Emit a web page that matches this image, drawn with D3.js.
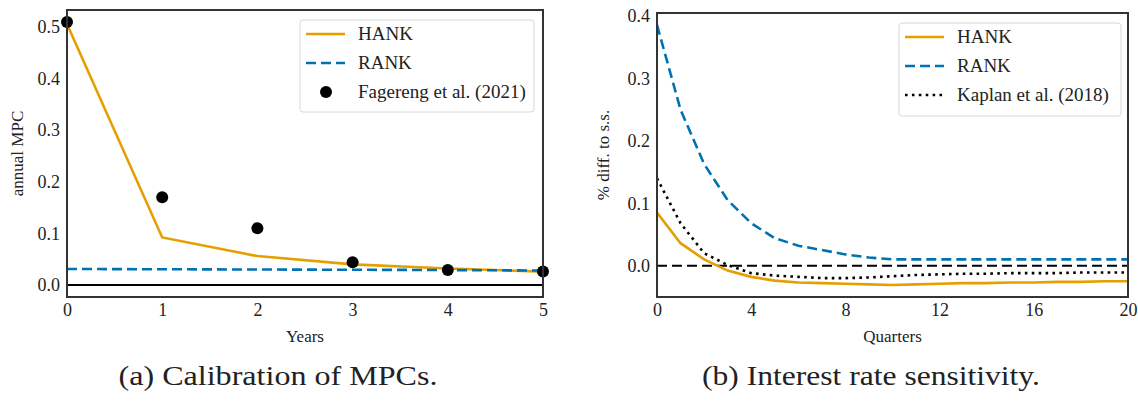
<!DOCTYPE html>
<html><head><meta charset="utf-8">
<script src="https://cdn.jsdelivr.net/npm/d3@7"></script>
<style>body{margin:0;background:#fff}svg{display:block}text{font-family:"Liberation Serif","Times New Roman",Times,serif;fill:#222}</style>
</head><body>
<svg id="c" width="1138" height="407"></svg>
<script>
// Panel (a): annual MPC
const years = [0, 1, 2, 3, 4, 5];
const mpcHANK = [0.505, 0.092, 0.056, 0.040, 0.032, 0.026];
const mpcRANK = [0.031, 0.0305, 0.030, 0.0295, 0.029, 0.028];
const mpcFagereng = [0.509, 0.170, 0.110, 0.044, 0.029, 0.026];
const yTicksA = [0.0, 0.1, 0.2, 0.3, 0.4, 0.5];
const xTicksA = [0, 1, 2, 3, 4, 5];

// Panel (b): interest rate sensitivity
const quarters = d3.range(0, 21);
const irHANK = [0.085, 0.036, 0.010, -0.008, -0.018, -0.024, -0.027, -0.028, -0.029, -0.030, -0.031, -0.030, -0.029, -0.028, -0.028, -0.027, -0.027, -0.026, -0.026, -0.025, -0.025];
const irRANK = [0.386, 0.250, 0.163, 0.105, 0.068, 0.044, 0.032, 0.025, 0.018, 0.013, 0.010, 0.010, 0.010, 0.010, 0.010, 0.010, 0.010, 0.010, 0.010, 0.010, 0.010];
const irKaplan = [0.140, 0.068, 0.020, 0.001, -0.012, -0.016, -0.018, -0.020, -0.020, -0.019, -0.017, -0.015, -0.014, -0.013, -0.013, -0.012, -0.012, -0.012, -0.011, -0.011, -0.011];
const yTicksB = [0.0, 0.1, 0.2, 0.3, 0.4];
const xTicksB = [0, 4, 8, 12, 16, 20];

const ORANGE = "#E69F00", BLUE = "#0072B2";
const SERIF = '"Liberation Serif","Times New Roman",Times,serif';
const svg = d3.select("#c");

function panel(o) {
  const g = svg.append("g");
  const x = d3.scaleLinear().domain(o.xdom).range([o.x0, o.x1]);
  const y = d3.scaleLinear().domain(o.ydom).range([o.y1, o.y0]);
  const clipId = "clip" + o.id;
  svg.append("clipPath").attr("id", clipId).append("rect")
    .attr("x", o.x0).attr("y", o.y0).attr("width", o.x1 - o.x0).attr("height", o.y1 - o.y0);
  const inner = g.append("g").attr("clip-path", `url(#${clipId})`);
  const xa = g.append("g").attr("transform", `translate(0,${o.y1})`)
    .call(d3.axisBottom(x).tickValues(o.xticks).tickSize(0).tickPadding(6).tickFormat(d3.format("d")));
  const ya = g.append("g").attr("transform", `translate(${o.x0},0)`)
    .call(d3.axisLeft(y).tickValues(o.yticks).tickSize(0).tickPadding(7).tickFormat(d3.format(".1f")));
  [xa, ya].forEach(a => {
    a.attr("font-family", SERIF).attr("font-size", 18);
    a.select(".domain").remove();
    a.selectAll("text").style("font-size", "18px").attr("fill", "#222");
  });
  g.append("text").attr("x", (o.x0 + o.x1) / 2).attr("y", o.y1 + 45).attr("text-anchor", "middle")
    .style("font-size", "17px").text(o.xlabel);
  g.append("text").attr("transform", `translate(${o.ylabx},${(o.y0 + o.y1) / 2}) rotate(-90)`)
    .attr("text-anchor", "middle").style("font-size", "17px").text(o.ylabel);
  g.append("text").attr("x", o.capx).attr("y", 385).attr("text-anchor", "middle")
    .attr("textLength", o.capw).attr("lengthAdjust", "spacingAndGlyphs")
    .style("font-size", "28px").text(o.caption);
  return { g, inner, x, y };
}

// ---------- Panel A ----------
const A = panel({ id: "a", x0: 67, x1: 543, y0: 10, y1: 297, xdom: [0, 5], ydom: [-0.0232, 0.5322],
  xticks: xTicksA, yticks: yTicksA, xlabel: "Years", ylabel: "annual MPC", ylabx: 23,
  caption: "(a) Calibration of MPCs.", capx: 278, capw: 319 });
A.inner.append("line").attr("x1", A.x(0)).attr("x2", A.x(5)).attr("y1", A.y(0)).attr("y2", A.y(0))
  .attr("stroke", "#000").attr("stroke-width", 2.2);
const lineA = (arr) => d3.line().x((d, i) => A.x(years[i])).y(d => A.y(d))(arr);
A.inner.append("path").attr("d", lineA(mpcHANK)).attr("fill", "none").attr("stroke", ORANGE).attr("stroke-width", 2.6);
A.inner.append("path").attr("d", lineA(mpcRANK)).attr("fill", "none").attr("stroke", BLUE).attr("stroke-width", 2.6).attr("stroke-dasharray", "10,5");
A.g.selectAll("circle.f").data(mpcFagereng).enter().append("circle")
  .attr("cx", (d, i) => A.x(years[i])).attr("cy", d => A.y(d)).attr("r", 6).attr("fill", "#000");
A.g.append("rect").attr("x", 67).attr("y", 10).attr("width", 476).attr("height", 287)
  .attr("fill", "none").attr("stroke", "#333").attr("stroke-width", 2);

// ---------- Panel B ----------
const B = panel({ id: "b", x0: 657, x1: 1128, y0: 13, y1: 297, xdom: [0, 20], ydom: [-0.0503, 0.4051],
  xticks: xTicksB, yticks: yTicksB, xlabel: "Quarters", ylabel: "% diff. to s.s.", ylabx: 609,
  caption: "(b) Interest rate sensitivity.", capx: 871, capw: 338 });
B.inner.append("line").attr("x1", B.x(0)).attr("x2", B.x(20)).attr("y1", B.y(0)).attr("y2", B.y(0))
  .attr("stroke", "#000").attr("stroke-width", 2).attr("stroke-dasharray", "10,5");
const lineB = (arr) => d3.line().x((d, i) => B.x(quarters[i])).y(d => B.y(d))(arr);
B.inner.append("path").attr("d", lineB(irHANK)).attr("fill", "none").attr("stroke", ORANGE).attr("stroke-width", 2.6);
B.inner.append("path").attr("d", lineB(irRANK)).attr("fill", "none").attr("stroke", BLUE).attr("stroke-width", 2.6).attr("stroke-dasharray", "10,5");
B.inner.append("path").attr("d", lineB(irKaplan)).attr("fill", "none").attr("stroke", "#000").attr("stroke-width", 2.6).attr("stroke-dasharray", "2.6,4.3");
B.g.append("rect").attr("x", 657).attr("y", 13).attr("width", 471).attr("height", 284)
  .attr("fill", "none").attr("stroke", "#333").attr("stroke-width", 2);

// ---------- Legends ----------
function legend(x, y, w, h, items) {
  const lg = svg.append("g").attr("transform", `translate(${x},${y})`);
  lg.append("rect").attr("width", w).attr("height", h).attr("rx", 3)
    .attr("fill", "#fff").attr("fill-opacity", 0.85).attr("stroke", "#d8d8d8").attr("stroke-width", 1);
  items.forEach((it, i) => {
    const cy = 14 + i * 29;
    if (it.type === "dot") {
      lg.append("circle").attr("cx", 26).attr("cy", cy).attr("r", 6).attr("fill", "#000");
    } else {
      lg.append("line").attr("x1", 6).attr("x2", 45).attr("y1", cy).attr("y2", cy)
        .attr("stroke", it.color).attr("stroke-width", 2.6).attr("stroke-dasharray", it.dash || null);
    }
    lg.append("text").attr("x", 58).attr("y", cy + 6).style("font-size", "19px").text(it.label);
  });
}
legend(300, 20, 234, 92, [
  { label: "HANK", color: ORANGE },
  { label: "RANK", color: BLUE, dash: "10,5" },
  { label: "Fagereng et al. (2021)", type: "dot" }]);
legend(899, 23, 222, 93, [
  { label: "HANK", color: ORANGE },
  { label: "RANK", color: BLUE, dash: "10,5" },
  { label: "Kaplan et al. (2018)", color: "#000", dash: "2.6,4.3" }]);
</script>
</body></html>
